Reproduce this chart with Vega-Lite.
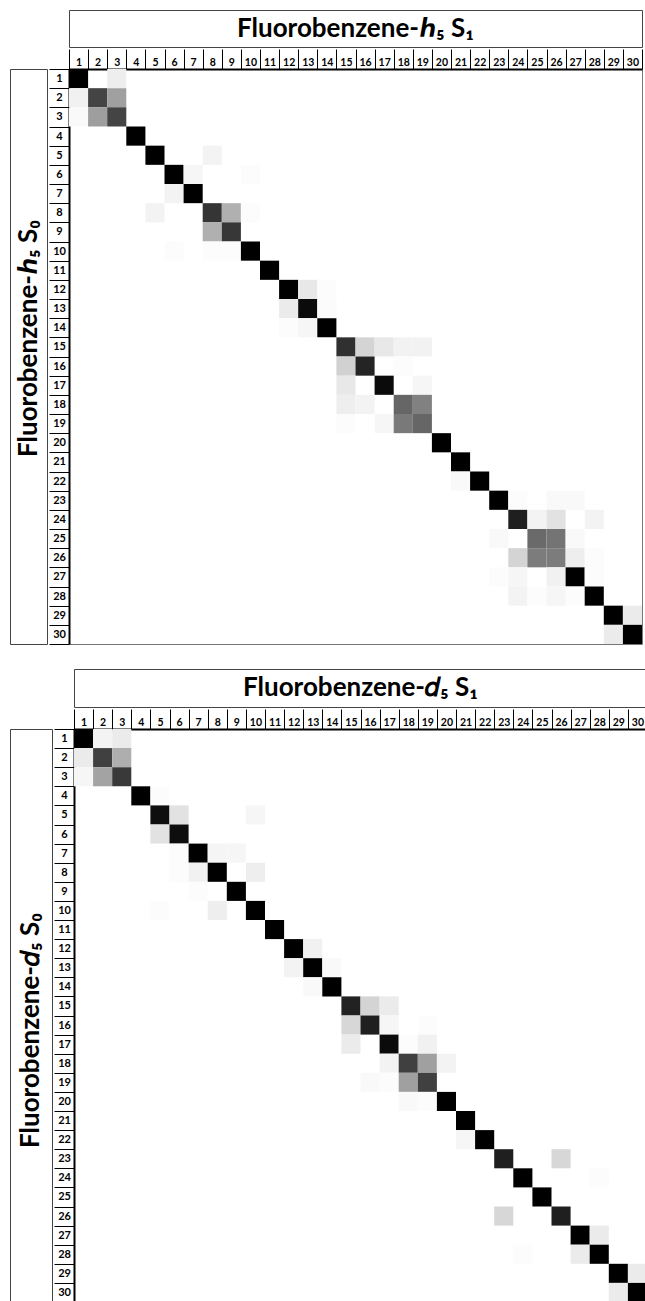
{
  "$schema": "https://vega.github.io/schema/vega-lite/v6.json",
  "padding": {"left": 9, "top": 9, "right": 0, "bottom": 0},
  "background": "white",
  "spacing": 23,
  "config": {
    "font": "Lato",
    "axis": {"grid": false, "zindex": 1}
  },
  "datasets": {
    "h5": [
      {"s0":1,"s1":1,"v":1},{"s0":1,"s1":3,"v":0.06},
      {"s0":2,"s1":1,"v":0.05},{"s0":2,"s1":2,"v":0.71},{"s0":2,"s1":3,"v":0.34},
      {"s0":3,"s1":1,"v":0.02},{"s0":3,"s1":2,"v":0.35},{"s0":3,"s1":3,"v":0.71},
      {"s0":4,"s1":4,"v":1},
      {"s0":5,"s1":5,"v":1},{"s0":5,"s1":8,"v":0.04},
      {"s0":6,"s1":6,"v":1},{"s0":6,"s1":7,"v":0.03},{"s0":6,"s1":10,"v":0.01},
      {"s0":7,"s1":6,"v":0.04},{"s0":7,"s1":7,"v":1},
      {"s0":8,"s1":5,"v":0.04},{"s0":8,"s1":8,"v":0.78},{"s0":8,"s1":9,"v":0.28},{"s0":8,"s1":10,"v":0.01},
      {"s0":9,"s1":8,"v":0.28},{"s0":9,"s1":9,"v":0.77},
      {"s0":10,"s1":6,"v":0.01},{"s0":10,"s1":8,"v":0.01},{"s0":10,"s1":9,"v":0.01},{"s0":10,"s1":10,"v":1},
      {"s0":11,"s1":11,"v":1},
      {"s0":12,"s1":12,"v":1},{"s0":12,"s1":13,"v":0.08},{"s0":12,"s1":14,"v":0.01},
      {"s0":13,"s1":12,"v":0.07},{"s0":13,"s1":13,"v":0.97},{"s0":13,"s1":14,"v":0.015},
      {"s0":14,"s1":12,"v":0.01},{"s0":14,"s1":13,"v":0.03},{"s0":14,"s1":14,"v":1},
      {"s0":15,"s1":15,"v":0.8},{"s0":15,"s1":16,"v":0.15},{"s0":15,"s1":17,"v":0.08},{"s0":15,"s1":18,"v":0.045},{"s0":15,"s1":19,"v":0.045},
      {"s0":16,"s1":15,"v":0.16},{"s0":16,"s1":16,"v":0.86},{"s0":16,"s1":18,"v":0.01},
      {"s0":17,"s1":15,"v":0.08},{"s0":17,"s1":17,"v":0.97},{"s0":17,"s1":19,"v":0.03},
      {"s0":18,"s1":15,"v":0.06},{"s0":18,"s1":16,"v":0.04},{"s0":18,"s1":18,"v":0.57},{"s0":18,"s1":19,"v":0.46},
      {"s0":19,"s1":15,"v":0.01},{"s0":19,"s1":17,"v":0.03},{"s0":19,"s1":18,"v":0.49},{"s0":19,"s1":19,"v":0.57},
      {"s0":20,"s1":20,"v":1},
      {"s0":21,"s1":21,"v":1},
      {"s0":22,"s1":21,"v":0.02},{"s0":22,"s1":22,"v":1},
      {"s0":23,"s1":23,"v":1},{"s0":23,"s1":24,"v":0.01},{"s0":23,"s1":26,"v":0.02},{"s0":23,"s1":27,"v":0.02},
      {"s0":24,"s1":24,"v":0.88},{"s0":24,"s1":25,"v":0.04},{"s0":24,"s1":26,"v":0.1},{"s0":24,"s1":28,"v":0.04},
      {"s0":25,"s1":23,"v":0.02},{"s0":25,"s1":25,"v":0.55},{"s0":25,"s1":26,"v":0.51},{"s0":25,"s1":27,"v":0.02},
      {"s0":26,"s1":24,"v":0.15},{"s0":26,"s1":25,"v":0.48},{"s0":26,"s1":26,"v":0.48},{"s0":26,"s1":27,"v":0.06},{"s0":26,"s1":28,"v":0.01},
      {"s0":27,"s1":23,"v":0.01},{"s0":27,"s1":24,"v":0.03},{"s0":27,"s1":26,"v":0.05},{"s0":27,"s1":27,"v":1},{"s0":27,"s1":28,"v":0.01},
      {"s0":28,"s1":24,"v":0.04},{"s0":28,"s1":25,"v":0.01},{"s0":28,"s1":26,"v":0.03},{"s0":28,"s1":27,"v":0.01},{"s0":28,"s1":28,"v":1},
      {"s0":29,"s1":29,"v":1},{"s0":29,"s1":30,"v":0.07},
      {"s0":30,"s1":29,"v":0.07},{"s0":30,"s1":30,"v":1}
    ],
    "d5": [
      {"s0":1,"s1":1,"v":1},{"s0":1,"s1":2,"v":0.04},{"s0":1,"s1":3,"v":0.07},
      {"s0":2,"s1":1,"v":0.07},{"s0":2,"s1":2,"v":0.73},{"s0":2,"s1":3,"v":0.29},
      {"s0":3,"s1":1,"v":0.03},{"s0":3,"s1":2,"v":0.33},{"s0":3,"s1":3,"v":0.76},
      {"s0":4,"s1":4,"v":1},{"s0":4,"s1":5,"v":0.01},
      {"s0":5,"s1":5,"v":0.96},{"s0":5,"s1":6,"v":0.1},{"s0":5,"s1":10,"v":0.03},
      {"s0":6,"s1":5,"v":0.1},{"s0":6,"s1":6,"v":0.96},
      {"s0":7,"s1":6,"v":0.01},{"s0":7,"s1":7,"v":1},{"s0":7,"s1":8,"v":0.035},{"s0":7,"s1":9,"v":0.03},
      {"s0":8,"s1":6,"v":0.01},{"s0":8,"s1":7,"v":0.05},{"s0":8,"s1":8,"v":1},{"s0":8,"s1":10,"v":0.06},
      {"s0":9,"s1":7,"v":0.01},{"s0":9,"s1":9,"v":1},
      {"s0":10,"s1":5,"v":0.01},{"s0":10,"s1":8,"v":0.06},{"s0":10,"s1":10,"v":1},
      {"s0":11,"s1":11,"v":1},
      {"s0":12,"s1":12,"v":1},{"s0":12,"s1":13,"v":0.05},
      {"s0":13,"s1":12,"v":0.04},{"s0":13,"s1":13,"v":1},{"s0":13,"s1":14,"v":0.02},
      {"s0":14,"s1":13,"v":0.02},{"s0":14,"s1":14,"v":1},
      {"s0":15,"s1":15,"v":0.87},{"s0":15,"s1":16,"v":0.15},{"s0":15,"s1":17,"v":0.07},
      {"s0":16,"s1":15,"v":0.14},{"s0":16,"s1":16,"v":0.88},{"s0":16,"s1":17,"v":0.03},{"s0":16,"s1":19,"v":0.01},
      {"s0":17,"s1":15,"v":0.07},{"s0":17,"s1":17,"v":0.97},{"s0":17,"s1":18,"v":0.01},{"s0":17,"s1":19,"v":0.05},
      {"s0":18,"s1":17,"v":0.04},{"s0":18,"s1":18,"v":0.73},{"s0":18,"s1":19,"v":0.34},{"s0":18,"s1":20,"v":0.04},
      {"s0":19,"s1":16,"v":0.02},{"s0":19,"s1":17,"v":0.01},{"s0":19,"s1":18,"v":0.34},{"s0":19,"s1":19,"v":0.73},
      {"s0":20,"s1":18,"v":0.02},{"s0":20,"s1":19,"v":0.01},{"s0":20,"s1":20,"v":1},
      {"s0":21,"s1":21,"v":1},
      {"s0":22,"s1":21,"v":0.03},{"s0":22,"s1":22,"v":1},
      {"s0":23,"s1":23,"v":0.88},{"s0":23,"s1":26,"v":0.14},
      {"s0":24,"s1":24,"v":1},{"s0":24,"s1":28,"v":0.01},
      {"s0":25,"s1":25,"v":1},
      {"s0":26,"s1":23,"v":0.14},{"s0":26,"s1":26,"v":0.88},
      {"s0":27,"s1":27,"v":1},{"s0":27,"s1":28,"v":0.07},
      {"s0":28,"s1":24,"v":0.01},{"s0":28,"s1":27,"v":0.07},{"s0":28,"s1":28,"v":1},
      {"s0":29,"s1":29,"v":1},{"s0":29,"s1":30,"v":0.07},
      {"s0":30,"s1":29,"v":0.07},{"s0":30,"s1":30,"v":1}
    ]
  },
  "vconcat": [
    {
      "columns": 2,
      "spacing": 0,
      "concat": [
        {"data": {"values": []}, "mark": "point", "width": 37, "height": 37, "view": {"stroke": null}},
        {
          "data": {"values": [{"t": "Fluorobenzene-ℎ₅ S₁"}]},
          "mark": {"type": "text", "fontSize": 26, "fontWeight": "bold", "color": "black", "align": "center", "baseline": "middle", "font": "Lato, Noto Sans, DejaVu Sans"},
          "encoding": {"text": {"field": "t"}},
          "width": 573, "height": 37,
          "view": {"stroke": "#444", "strokeWidth": 1}
        },
        {
          "data": {"values": [{"t": "Fluorobenzene-ℎ₅ S₀"}]},
          "mark": {"type": "text", "fontSize": 26, "fontWeight": "bold", "color": "black", "align": "center", "baseline": "middle", "angle": 270, "dx": 18, "font": "Lato, Noto Sans, DejaVu Sans"},
          "encoding": {"text": {"field": "t"}},
          "width": 37, "height": 575,
          "view": {"stroke": "#444", "strokeWidth": 1}
        },
        {
          "data": {"name": "h5"},
          "mark": {"type": "rect"},
          "width": 573, "height": 575,
          "view": {"stroke": "#777", "strokeWidth": 1},
          "encoding": {
            "x": {"field": "s1", "type": "ordinal",
              "scale": {"domain": [1,2,3,4,5,6,7,8,9,10,11,12,13,14,15,16,17,18,19,20,21,22,23,24,25,26,27,28,29,30], "paddingInner": 0, "paddingOuter": 0},
              "axis": {"orient": "top", "title": null, "labelAngle": 0, "domainColor": "black", "domainWidth": 2, "tickBand": "extent", "tickSize": 20, "tickColor": "black", "tickWidth": 1, "labelPadding": -16, "labelBaseline": "alphabetic", "labelFont": "Lato", "labelFontWeight": "bold", "labelFontSize": 10.5, "labelColor": "black"}},
            "y": {"field": "s0", "type": "ordinal",
              "scale": {"domain": [1,2,3,4,5,6,7,8,9,10,11,12,13,14,15,16,17,18,19,20,21,22,23,24,25,26,27,28,29,30], "paddingInner": 0, "paddingOuter": 0},
              "axis": {"orient": "left", "title": null, "domainColor": "black", "domainWidth": 2, "tickBand": "extent", "tickSize": 20, "tickColor": "black", "tickWidth": 1, "labelPadding": -10, "labelAlign": "center", "labelBaseline": "middle", "labelFont": "Lato", "labelFontWeight": "bold", "labelFontSize": 11, "labelColor": "black"}},
            "color": {"field": "v", "type": "quantitative", "scale": {"domain": [0, 1], "range": ["#ffffff", "#000000"]}, "legend": null}
          }
        }
      ]
    },
    {
      "columns": 2,
      "spacing": 0,
      "concat": [
        {"data": {"values": []}, "mark": "point", "width": 42, "height": 38, "view": {"stroke": null}},
        {
          "data": {"values": [{"t": "Fluorobenzene-𝑑₅ S₁"}]},
          "mark": {"type": "text", "fontSize": 26, "fontWeight": "bold", "color": "black", "align": "center", "baseline": "middle", "font": "Lato, Noto Sans, DejaVu Sans"},
          "encoding": {"text": {"field": "t"}},
          "width": 573, "height": 38,
          "view": {"stroke": "#444", "strokeWidth": 1}
        },
        {
          "data": {"values": [{"t": "Fluorobenzene-𝑑₅ S₀"}]},
          "mark": {"type": "text", "fontSize": 26, "fontWeight": "bold", "color": "black", "align": "center", "baseline": "middle", "angle": 270, "dx": -15, "font": "Lato, Noto Sans, DejaVu Sans"},
          "encoding": {"text": {"field": "t"}},
          "width": 42, "height": 573,
          "view": {"stroke": "#444", "strokeWidth": 1}
        },
        {
          "data": {"name": "d5"},
          "mark": {"type": "rect"},
          "width": 573, "height": 573,
          "view": {"stroke": "#777", "strokeWidth": 1},
          "encoding": {
            "x": {"field": "s1", "type": "ordinal",
              "scale": {"domain": [1,2,3,4,5,6,7,8,9,10,11,12,13,14,15,16,17,18,19,20,21,22,23,24,25,26,27,28,29,30], "paddingInner": 0, "paddingOuter": 0},
              "axis": {"orient": "top", "title": null, "labelAngle": 0, "domainColor": "black", "domainWidth": 2, "tickBand": "extent", "tickSize": 20, "tickColor": "black", "tickWidth": 1, "labelPadding": -16, "labelBaseline": "alphabetic", "labelFont": "Lato", "labelFontWeight": "bold", "labelFontSize": 10.5, "labelColor": "black"}},
            "y": {"field": "s0", "type": "ordinal",
              "scale": {"domain": [1,2,3,4,5,6,7,8,9,10,11,12,13,14,15,16,17,18,19,20,21,22,23,24,25,26,27,28,29,30], "paddingInner": 0, "paddingOuter": 0},
              "axis": {"orient": "left", "title": null, "domainColor": "black", "domainWidth": 2, "tickBand": "extent", "tickSize": 20, "tickColor": "black", "tickWidth": 1, "labelPadding": -10, "labelAlign": "center", "labelBaseline": "middle", "labelFont": "Lato", "labelFontWeight": "bold", "labelFontSize": 11, "labelColor": "black"}},
            "color": {"field": "v", "type": "quantitative", "scale": {"domain": [0, 1], "range": ["#ffffff", "#000000"]}, "legend": null}
          }
        }
      ]
    }
  ]
}
